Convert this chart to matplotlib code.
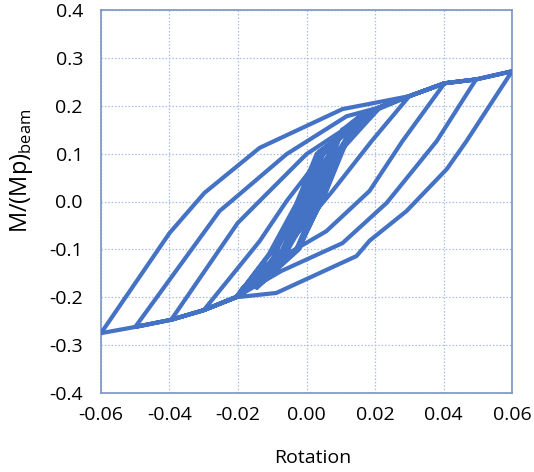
import matplotlib
matplotlib.use("Agg")
import matplotlib.pyplot as plt

# ---- data: hysteresis branches (rotation, normalised moment) ----
# small elastic cycles: positive peak / negative peak
small_rot_pos = [0.0045, 0.0058, 0.0083]
small_mom_pos = [0.060, 0.080, 0.120]
small_rot_neg = [-0.0030, -0.0042, -0.0067]
small_mom_neg = [-0.060, -0.080, -0.120]

# cycles 0.01 (two)
d01a_rot = [0.0105, 0.0020, -0.0095]
d01a_mom = [0.150, 0.000, -0.150]
a01a_rot = [-0.0095, -0.0005, 0.0105]
a01a_mom = [-0.150, 0.000, 0.150]
d01b_rot = [0.0105, 0.0028, -0.0095]
d01b_mom = [0.150, 0.000, -0.150]
a01b_rot = [-0.0095, -0.0012, 0.0105]
a01b_mom = [-0.150, 0.000, 0.150]
# cycles 0.015 (two)
d015a_rot = [0.0155, 0.0080, 0.0030, -0.0030, -0.0145]
d015a_mom = [0.178, 0.090, 0.000, -0.100, -0.180]
a015a_rot = [-0.0145, -0.0070, -0.0010, 0.0050, 0.0155]
a015a_mom = [-0.180, -0.100, 0.000, 0.100, 0.178]
d015b_rot = [0.0155, 0.0090, 0.0036, -0.0022, -0.0145]
d015b_mom = [0.178, 0.095, 0.000, -0.100, -0.180]
a015b_rot = [-0.0145, -0.0085, -0.0018, 0.0042, 0.0155]
a015b_mom = [-0.180, -0.100, 0.000, 0.100, 0.178]
# cycles 0.02 (two)
d02a_rot = [0.021, 0.0105, 0.0044, -0.0029, -0.0205]
d02a_mom = [0.193, 0.110, 0.000, -0.103, -0.200]
a02a_rot = [-0.0205, -0.0099, -0.0020, 0.0038, 0.021]
a02a_mom = [-0.200, -0.103, 0.000, 0.105, 0.193]
d02b_rot = [0.021, 0.0120, 0.0058, -0.0020, -0.0205]
d02b_mom = [0.193, 0.130, 0.022, -0.095, -0.200]
a02b_rot = [-0.0205, -0.0110, -0.0030, 0.0030, 0.021]
a02b_mom = [-0.200, -0.110, -0.005, 0.100, 0.193]
# cycle 0.03
d03_rot = [0.030, 0.019, 0.0076, -0.0058, -0.0187, -0.0205, -0.030]
d03_mom = [0.220, 0.126, 0.022, -0.093, -0.181, -0.200, -0.227]
a03_rot = [-0.030, -0.0137, -0.0058, 0.006, 0.021, 0.030]
a03_mom = [-0.227, -0.083, 0.001, 0.110, 0.196, 0.220]
# cycle 0.04
d04_rot = [0.0403, 0.028, 0.0184, 0.0058, -0.0117, -0.0205, -0.030, -0.0395]
d04_mom = [0.247, 0.126, 0.022, -0.062, -0.135, -0.200, -0.227, -0.247]
a04_rot = [-0.0395, -0.0201, -0.0137, 0.000, 0.0155, 0.021, 0.030, 0.0403]
a04_mom = [-0.247, -0.045, 0.001, 0.099, 0.172, 0.196, 0.220, 0.247]
# cycle 0.05
d05_rot = [0.0495, 0.038, 0.0234, 0.0105, -0.0073, -0.0196, -0.030, -0.0395, -0.050]
d05_mom = [0.255, 0.126, -0.003, -0.087, -0.145, -0.196, -0.227, -0.247, -0.262]
a05_rot = [-0.050, -0.0254, -0.0219, -0.0058, 0.0117, 0.021, 0.030, 0.0403, 0.0495]
a05_mom = [-0.262, -0.020, 0.001, 0.099, 0.178, 0.196, 0.220, 0.247, 0.255]
# cycle 0.06
d06_rot = [0.060, 0.0467, 0.041, 0.0292, 0.0184, 0.0146, -0.0088, -0.0205, -0.030, -0.0395, -0.050, -0.060]
d06_mom = [0.272, 0.126, 0.068, -0.020, -0.082, -0.114, -0.191, -0.200, -0.227, -0.247, -0.262, -0.275]
a06_rot = [-0.060, -0.040, -0.0298, -0.0137, 0.0105, 0.030, 0.0403, 0.0495, 0.060]
a06_mom = [-0.275, -0.066, 0.018, 0.112, 0.193, 0.220, 0.247, 0.255, 0.272]

x_ticks = [-0.06, -0.04, -0.02, 0.00, 0.02, 0.04, 0.06]
y_ticks = [-0.4, -0.3, -0.2, -0.1, 0.0, 0.1, 0.2, 0.3, 0.4]

# ---- build the continuous path ----
rot = [0.0]
mom = [0.0]
for rp, mp, rn, mn in zip(small_rot_pos, small_mom_pos, small_rot_neg, small_mom_neg):
    rot += [rp, rn, rp]
    mom += [mp, mn, mp]
branches = [(d01a_rot, d01a_mom, a01a_rot, a01a_mom),
            (d01b_rot, d01b_mom, a01b_rot, a01b_mom),
            (d015a_rot, d015a_mom, a015a_rot, a015a_mom),
            (d015b_rot, d015b_mom, a015b_rot, a015b_mom),
            (d02a_rot, d02a_mom, a02a_rot, a02a_mom),
            (d02b_rot, d02b_mom, a02b_rot, a02b_mom),
            (d03_rot, d03_mom, a03_rot, a03_mom),
            (d04_rot, d04_mom, a04_rot, a04_mom),
            (d05_rot, d05_mom, a05_rot, a05_mom),
            (d06_rot, d06_mom, a06_rot, a06_mom)]
for dr, dm, ar, am in branches:
    rot += dr + ar
    mom += dm + am

# ---- figure ----
plt.rcParams['font.family'] = ['Open Sans', 'DejaVu Sans']
plt.rcParams['mathtext.fontset'] = 'custom'
plt.rcParams['mathtext.rm'] = 'Open Sans'
fig = plt.figure(figsize=(5.34, 4.72), dpi=100)
ax = fig.add_axes([101/534, 1 - 393/472, (512-101)/534, (393-10)/472])

ax.plot(rot, mom, color='#4472C4', lw=3.0, solid_joinstyle='round',
        solid_capstyle='round', zorder=3)

ax.set_xlim(-0.06, 0.06)
ax.set_ylim(-0.4, 0.4)
ax.set_xticks(x_ticks)
ax.set_yticks(y_ticks)
ax.set_xticklabels([f"{v:.2f}" for v in x_ticks])
ax.set_yticklabels([f"{v:.1f}" for v in y_ticks])
ax.tick_params(length=0, labelsize=14, colors='black')
ax.tick_params(axis='x', pad=9)
ax.tick_params(axis='y', pad=13)

ax.grid(True, color='#A9BEE0', lw=0.9, linestyle=(0, (1.2, 1.5)))
ax.set_axisbelow(True)
for s in ax.spines.values():
    s.set_color('#7A93C4')
    s.set_linewidth(1.2)

ax.set_xlabel('Rotation', fontsize=14)
ax.xaxis.set_label_coords(0.515, -0.145)
ax.set_ylabel(r'M/(Mp)$_{\mathregular{beam}}$', fontsize=17)
ax.yaxis.set_label_coords(-0.16, 0.58)

fig.savefig('out.png', dpi=100)
